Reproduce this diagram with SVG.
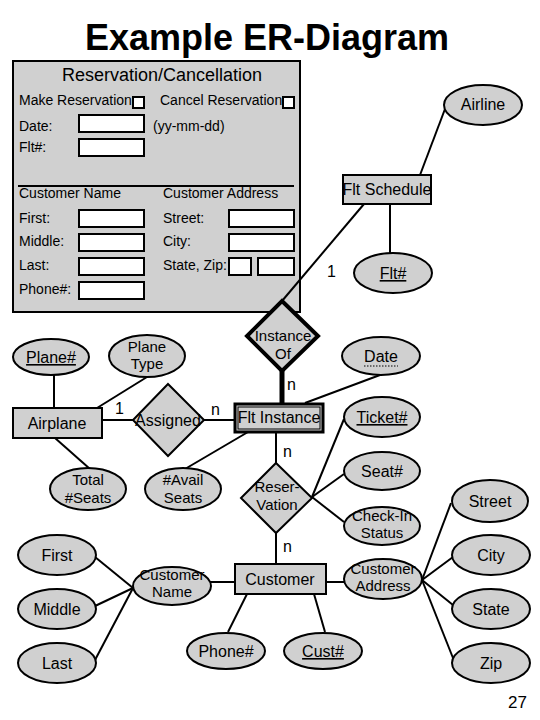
<svg xmlns="http://www.w3.org/2000/svg" width="540" height="720" viewBox="0 0 540 720">
<style>
text{font-family:"Liberation Sans",Arial,sans-serif;fill:#000}
.t{font-size:16px;text-anchor:middle}
.t2{font-size:15px;text-anchor:middle}
.f{font-size:14px}
.lbl{font-size:16px}
.sh{fill:#d0d0d0;stroke:#000;stroke-width:2}
.in{fill:#fff;stroke:#000;stroke-width:2}
.c line{stroke:#000;stroke-width:2}
.u{text-decoration:underline}
</style>
<rect width="540" height="720" fill="#fff"/>
<text x="267" y="50" font-size="36" font-weight="bold" text-anchor="middle">Example ER-Diagram</text>

<g id="form">
<rect x="13" y="61" width="287" height="251" class="sh"/>
<text x="162" y="81" font-size="18" text-anchor="middle">Reservation/Cancellation</text>
<text x="19" y="105" class="f">Make Reservation</text>
<rect x="133" y="97" width="11" height="11" class="in"/>
<text x="160" y="105" class="f">Cancel Reservation</text>
<rect x="283" y="97" width="11" height="11" class="in"/>
<text x="19" y="131" class="f">Date:</text>
<rect x="79" y="115" width="65" height="17" class="in"/>
<text x="153" y="131" class="f">(yy-mm-dd)</text>
<text x="19" y="152" class="f">Flt#:</text>
<rect x="79" y="139" width="65" height="17" class="in"/>
<line x1="18" y1="186" x2="294" y2="186" stroke="#000" stroke-width="2"/>
<text x="19" y="198" class="f">Customer Name</text>
<text x="163" y="198" class="f">Customer Address</text>
<text x="19" y="223" class="f">First:</text>
<rect x="79" y="210" width="65" height="17" class="in"/>
<text x="163" y="223" class="f">Street:</text>
<rect x="229" y="210" width="65" height="17" class="in"/>
<text x="19" y="246" class="f">Middle:</text>
<rect x="79" y="234" width="65" height="17" class="in"/>
<text x="163" y="246" class="f">City:</text>
<rect x="229" y="234" width="65" height="17" class="in"/>
<text x="19" y="270" class="f">Last:</text>
<rect x="79" y="258" width="65" height="17" class="in"/>
<text x="163" y="270" class="f">State, Zip:</text>
<rect x="229" y="258" width="22" height="17" class="in"/>
<rect x="258" y="258" width="36" height="17" class="in"/>
<text x="19" y="294" class="f">Phone#:</text>
<rect x="79" y="282" width="65" height="17" class="in"/>
</g>

<g id="connectors" class="c">
<line x1="420" y1="175" x2="445" y2="109"/>
<line x1="364" y1="204" x2="282" y2="301"/>
<line x1="390" y1="204" x2="390" y2="253"/>
<line x1="282" y1="370" x2="282" y2="403" style="stroke-width:5"/>
<line x1="380" y1="375" x2="305" y2="403"/>
<line x1="54" y1="375" x2="54" y2="408"/>
<line x1="147" y1="377" x2="97" y2="408"/>
<line x1="102" y1="420" x2="133" y2="420"/>
<line x1="204" y1="420" x2="234" y2="420"/>
<line x1="55" y1="438" x2="90" y2="469"/>
<line x1="248" y1="432" x2="185" y2="469"/>
<line x1="276" y1="432" x2="276" y2="463"/>
<line x1="312" y1="497" x2="344" y2="419"/>
<line x1="312" y1="497" x2="344" y2="474"/>
<line x1="312" y1="497" x2="344" y2="522"/>
<line x1="276" y1="533" x2="276" y2="564"/>
<line x1="210" y1="582" x2="235" y2="582"/>
<line x1="326" y1="582" x2="344" y2="582"/>
<line x1="133" y1="588" x2="95" y2="557"/>
<line x1="133" y1="588" x2="95" y2="606"/>
<line x1="133" y1="588" x2="95" y2="660"/>
<line x1="247" y1="594" x2="228" y2="632"/>
<line x1="314" y1="594" x2="325" y2="632"/>
<line x1="422" y1="580" x2="451" y2="503"/>
<line x1="422" y1="580" x2="453" y2="557"/>
<line x1="422" y1="580" x2="453" y2="605"/>
<line x1="422" y1="580" x2="453" y2="658"/>
</g>

<g id="labels">
<text x="327" y="277" class="lbl">1</text>
<text x="287" y="390" class="lbl">n</text>
<text x="115" y="414" class="lbl">1</text>
<text x="211" y="415" class="lbl">n</text>
<text x="283" y="457" class="lbl">n</text>
<text x="283" y="552" class="lbl">n</text>
</g>

<g id="airline"><ellipse cx="483" cy="105" rx="39" ry="20" class="sh"/><text x="483" y="110" class="t">Airline</text></g>
<g id="flt-schedule"><rect x="343" y="175" width="88" height="29" class="sh"/><text x="387" y="195" class="t">Flt Schedule</text></g>
<g id="flt-num"><ellipse cx="393" cy="273" rx="39" ry="20" class="sh"/><text x="393" y="279" class="t u">Flt#</text></g>
<g id="instance-of"><polygon points="282,301 318,336 282,371 247,336" fill="#d0d0d0" stroke="#000" stroke-width="4" stroke-linejoin="miter"/><text x="283" y="341" class="t2">Instance</text><text x="283" y="359" class="t2">Of</text></g>
<g id="date"><ellipse cx="381" cy="356" rx="39" ry="19" class="sh"/><text x="381" y="362" class="t">Date</text><line x1="364" y1="366" x2="398" y2="366" stroke="#000" stroke-width="1.2" stroke-dasharray="1.5,1.5"/></g>
<g id="flt-instance"><rect x="235" y="404" width="88" height="28" fill="#d0d0d0" stroke="#000" stroke-width="3"/><rect x="238" y="407" width="82" height="22" fill="none" stroke="#000" stroke-width="1"/><text x="279" y="423" class="t">Flt Instance</text></g>
<g id="plane-num"><ellipse cx="51" cy="357" rx="38" ry="18" class="sh"/><text x="51" y="363" class="t u">Plane#</text></g>
<g id="plane-type"><ellipse cx="147" cy="356" rx="38" ry="21" class="sh"/><text x="147" y="352" class="t2">Plane</text><text x="147" y="369" class="t2">Type</text></g>
<g id="airplane"><rect x="13" y="408" width="89" height="30" class="sh"/><text x="57" y="429" class="t">Airplane</text></g>
<g id="assigned"><polygon points="168,384 204,420 168,456 133,420" class="sh"/><text x="168" y="426" class="t">Assigned</text></g>
<g id="total-seats"><ellipse cx="88" cy="489" rx="38" ry="21" class="sh"/><text x="88" y="485" class="t2">Total</text><text x="88" y="503" class="t2">#Seats</text></g>
<g id="avail-seats"><ellipse cx="183" cy="489" rx="38" ry="21" class="sh"/><text x="183" y="485" class="t2">#Avail</text><text x="183" y="503" class="t2">Seats</text></g>
<g id="ticket"><ellipse cx="382" cy="417" rx="38" ry="20" class="sh"/><text x="382" y="423" class="t u">Ticket#</text></g>
<g id="seat"><ellipse cx="382" cy="471" rx="38" ry="19" class="sh"/><text x="382" y="477" class="t">Seat#</text></g>
<g id="reservation"><polygon points="276,463 312,498 276,533 241,498" class="sh"/><text x="277" y="492" class="t2">Reser-</text><text x="277" y="510" class="t2">Vation</text></g>
<g id="checkin"><ellipse cx="382" cy="526" rx="38" ry="19" class="sh"/><text x="382" y="521" class="t2">Check-In</text><text x="382" y="538" class="t2">Status</text></g>
<g id="street"><ellipse cx="490" cy="501" rx="38" ry="21" class="sh"/><text x="490" y="507" class="t">Street</text></g>
<g id="first"><ellipse cx="57" cy="555" rx="39" ry="20" class="sh"/><text x="57" y="561" class="t">First</text></g>
<g id="middle"><ellipse cx="57" cy="609" rx="39" ry="20" class="sh"/><text x="57" y="615" class="t">Middle</text></g>
<g id="last"><ellipse cx="57" cy="663" rx="39" ry="20" class="sh"/><text x="57" y="669" class="t">Last</text></g>
<g id="customer-name"><ellipse cx="172" cy="586" rx="39" ry="19" class="sh"/><text x="172" y="580" class="t2">Customer</text><text x="172" y="597" class="t2">Name</text></g>
<g id="customer"><rect x="235" y="564" width="91" height="30" class="sh"/><text x="280" y="585" class="t">Customer</text></g>
<g id="customer-address"><ellipse cx="383" cy="579" rx="39" ry="20" class="sh"/><text x="383" y="574" class="t2">Customer</text><text x="383" y="591" class="t2">Address</text></g>
<g id="city"><ellipse cx="491" cy="555" rx="39" ry="20" class="sh"/><text x="491" y="561" class="t">City</text></g>
<g id="state"><ellipse cx="491" cy="609" rx="39" ry="20" class="sh"/><text x="491" y="615" class="t">State</text></g>
<g id="zip"><ellipse cx="491" cy="663" rx="39" ry="20" class="sh"/><text x="491" y="669" class="t">Zip</text></g>
<g id="phone"><ellipse cx="226" cy="651" rx="39" ry="18" class="sh"/><text x="226" y="657" class="t">Phone#</text></g>
<g id="cust-num"><ellipse cx="323" cy="651" rx="39" ry="18" class="sh"/><text x="323" y="657" class="t u">Cust#</text></g>
<text x="527" y="708" font-size="17" text-anchor="end">27</text>
</svg>
